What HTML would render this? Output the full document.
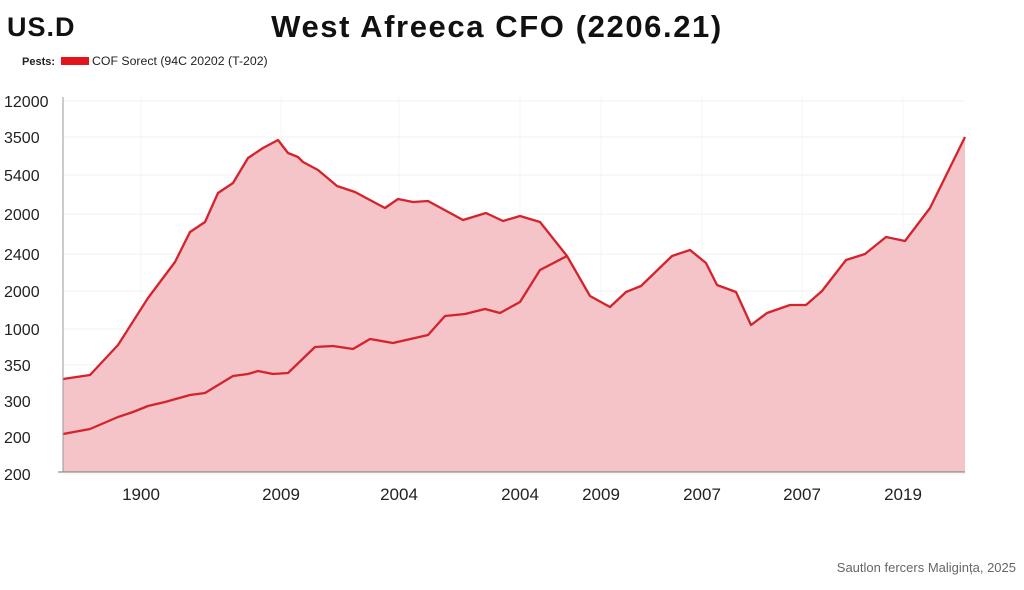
<!DOCTYPE html>
<html><head><meta charset="utf-8"><style>
body{margin:0;background:#fff;width:1024px;height:585px;overflow:hidden;font-family:"Liberation Sans",sans-serif}
</style></head><body>
<svg width="1024" height="585">
<text x="7" y="36" font-size="27" font-weight="bold" fill="#111" letter-spacing="1">US.D</text>
<text x="497" y="37" font-size="31" font-weight="bold" fill="#111" text-anchor="middle" letter-spacing="1.6">West Afreeca CFO (2206.21)</text>
<g>
<text x="22" y="65" font-size="11" font-weight="bold" fill="#222">Pests:</text>
<rect x="61" y="57" width="28" height="8" fill="#e5141c"/>
<text x="92" y="65" font-size="12.3" fill="#222">COF Sorect (94C 20202 (T-202)</text>
</g>
<g id="grid"></g>
<path id="area" fill="#f4c4c8"/>
<path id="upper" fill="none" stroke="#d5232d" stroke-width="2.3" stroke-linejoin="round"/>
<path id="lower" fill="none" stroke="#d5232d" stroke-width="2.3" stroke-linejoin="round"/>
<line x1="63" y1="97" x2="63" y2="472" stroke="#999"/>
<line x1="58" y1="472" x2="965" y2="472" stroke="#777"/>
<g id="labels"></g>
<text x="1016" y="572" font-size="13" fill="#666" text-anchor="end">Sautlon fercers Maligința, 2025</text>
</svg>
<script>
const yTickLabels=["12000","3500","5400","2000","2400","2000","1000","350","300","200","200"];
const yTickValues=[371,335,297,258,218,181,143,107,71,35,-2];
const xTickLabels=["1900","2009","2004","2004","2009","2007","2007","2019"];
const xTickValues=[78,218,336,457,538,639,739,840];
const upperX=[0,27,55,85,112,127,142,155,170,185,200,215,225,235,240,255,274,292,322,335,350,365,400,423,440,457,477,504,527,547,563,578,609,627,643,654,673,688,704,727,743,759,783,802,823,842,867,902];
const upperV=[93,97,127,174,210,240,250,279,289,314,324,332,319,315,310,302,286,280,264,273,270,271,252,259,251,256,250,216,176,165,180,186,216,222,209,187,180,147,159,167,167,181,212,218,235,231,264,335];
const lowerX=[0,27,55,70,85,102,127,142,170,185,195,210,225,252,270,290,307,330,365,382,402,422,437,457,477,504];
const lowerV=[38,43,55,60,66,70,77,79,96,98,101,98,99,125,126,123,133,129,137,156,158,163,159,170,202,216];
const X0=63,X1=965,Y0=472;
const sx=v=>X0+v*(X1-X0)/902;
const sy=v=>Y0-v;
const ns="http://www.w3.org/2000/svg";
const pts=(xs,vs)=>xs.map((x,i)=>sx(x).toFixed(1)+","+sy(vs[i]).toFixed(1));
const up=pts(upperX,upperV);
document.getElementById('upper').setAttribute('d',"M"+up.join("L"));
document.getElementById('lower').setAttribute('d',"M"+pts(lowerX,lowerV).join("L"));
document.getElementById('area').setAttribute('d',"M"+sx(upperX[0])+","+Y0+"L"+up.join("L")+"L"+sx(upperX[upperX.length-1])+","+Y0+"Z");
const g=document.getElementById('grid'),lb=document.getElementById('labels');
yTickValues.forEach((v,i)=>{
 const l=document.createElementNS(ns,'line');
 l.setAttribute('x1',X0);l.setAttribute('x2',X1);l.setAttribute('y1',sy(v));l.setAttribute('y2',sy(v));
 l.setAttribute('stroke','#f2f2f2');
 
 
 g.appendChild(l);
 const t=document.createElementNS(ns,'text');
 t.setAttribute('x',4);t.setAttribute('y',sy(v)+6);t.setAttribute('font-size','16');t.setAttribute('fill','#222');
 t.textContent=yTickLabels[i];
 
 
 lb.appendChild(t);
});
xTickValues.forEach((v,i)=>{
 const l=document.createElementNS(ns,'line');
 l.setAttribute('x1',sx(v));l.setAttribute('x2',sx(v));l.setAttribute('y1',97);l.setAttribute('y2',Y0);
 l.setAttribute('stroke','#f4f4f4');
 
 
 g.appendChild(l);
 const t=document.createElementNS(ns,'text');
 t.setAttribute('x',sx(v));t.setAttribute('y',500);t.setAttribute('font-size','17');t.setAttribute('fill','#222');t.setAttribute('text-anchor','middle');
 t.textContent=xTickLabels[i];
 
 
 lb.appendChild(t);
});
</script>
</body></html>
